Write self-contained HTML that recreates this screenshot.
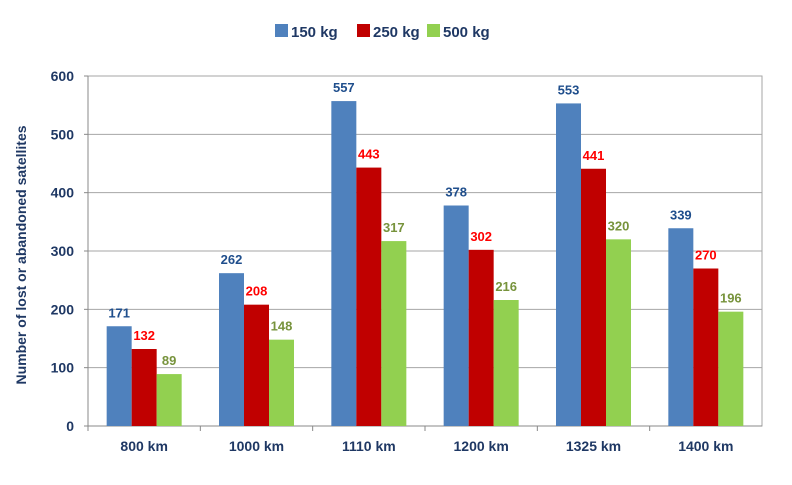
<!DOCTYPE html>
<html><head><meta charset="utf-8"><style>
body{margin:0;background:#fff;width:792px;height:480px;overflow:hidden}
svg text{font-family:"Liberation Sans",sans-serif;font-weight:bold}
</style></head><body>
<svg id="c" width="792" height="480"></svg>
<script>
const categories=["800 km","1000 km","1110 km","1200 km","1325 km","1400 km"];
const series150=[171,262,557,378,553,339];
const series250=[132,208,443,302,441,270];
const series500=[89,148,317,216,320,196];
const yTicks=[0,100,200,300,400,500,600];
const seriesNames=["150 kg","250 kg","500 kg"];
const NS="http://www.w3.org/2000/svg";
const svg=document.getElementById('c');
const L=88,R=762,T=76,B=426,yMax=600;
const y=v=>B-(v/yMax)*(B-T);
const gw=(R-L)/categories.length;
const x=i=>L+i*gw;
function el(t,a,txt){const e=document.createElementNS(NS,t);for(const k in a)e.setAttribute(k,a[k]);if(txt!==undefined)e.textContent=txt;svg.appendChild(e);return e;}
const fills=["#4f81bd","#c00000","#92d050"];
const labCols=["#1f4e8c","#ff0000","#77933c"];
const data=[series150,series250,series500];
let pb=el('rect',{x:L,y:T,width:R-L,height:B-T,fill:'none',stroke:'#a6a6a6','stroke-width':1});


yTicks.forEach(v=>{
  if(v>0&&v<yMax){let g=el('line',{x1:L,x2:R,y1:y(v),y2:y(v),stroke:'#a6a6a6','stroke-width':1});
  
  }
  let tk=el('line',{x1:L-4,x2:L,y1:y(v),y2:y(v),stroke:'#888'});
  
  
  let t=el('text',{x:L-14,y:y(v)+5,'text-anchor':'end','font-size':14,fill:'#1f3864'},v);
  
  
});
let ax=el('line',{x1:L,x2:L,y1:T,y2:B,stroke:'#888'});


let bx=el('line',{x1:L,x2:R,y1:B,y2:B,stroke:'#888'});


const bw=25;
categories.forEach((c,i)=>{
  let tk=el('line',{x1:x(i),x2:x(i),y1:B,y2:B+5,stroke:'#888'});
  
  
  const cx=x(i)+gw/2;
  let t=el('text',{x:cx,y:B+25,'text-anchor':'middle','font-size':14,fill:'#1f3864'},c);
  
  
  data.forEach((s,j)=>{
    const bx0=cx-1.5*bw+j*bw;
    let r=el('rect',{x:bx0,y:y(s[i]),width:bw,height:B-y(s[i]),fill:fills[j]});
    
    
    let l=el('text',{x:bx0+bw/2,y:y(s[i])-9,'text-anchor':'middle','font-size':13,fill:labCols[j]},s[i]);
    
    
  });
});
let yt=el('text',{x:0,y:0,'text-anchor':'middle','font-size':14,fill:'#1f3864',transform:`translate(26,${(T+B)/2+4}) rotate(-90)`},'Number of lost or abandoned satellites');


const lx=[275,357,427];
seriesNames.forEach((n,j)=>{
  let s=el('rect',{x:lx[j],y:24,width:13,height:13,fill:fills[j]});
  
  
  let t=el('text',{x:lx[j]+16,y:37,'font-size':15,fill:'#1f3864'},n);
  
  
});
</script>
</body></html>
